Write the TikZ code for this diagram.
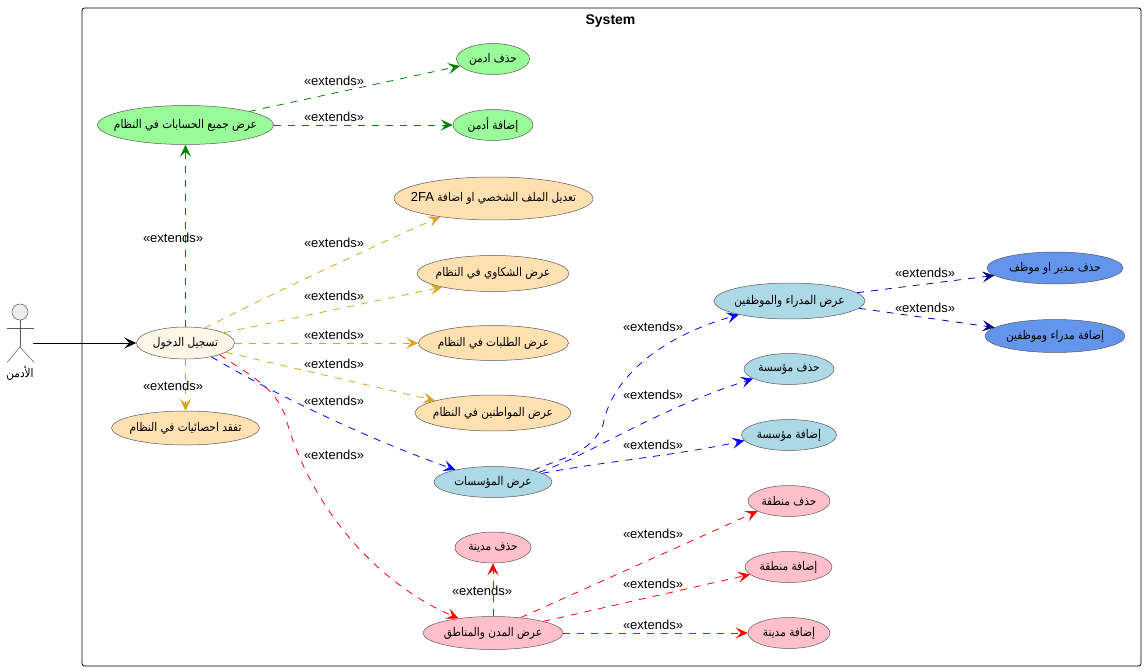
\documentclass[tikz,border=0pt]{standalone}
\usepackage{fontspec}
\setmainfont{Liberation Sans}
\newfontfamily\arabicfont[Script=Arabic,FakeStretch=0.88]{DejaVu Sans}
\TeXXeTstate=1
\usepackage{xcolor}
\usetikzlibrary{arrows.meta, shapes.geometric}
\definecolor{ucgreen}{HTML}{98FB98}
\definecolor{ucorange}{HTML}{FFE0B0}
\definecolor{ucblue}{HTML}{ADD8E6}
\definecolor{ucpink}{HTML}{FFC0CB}
\definecolor{ucdarkblue}{HTML}{6495ED}
\definecolor{uclogin}{HTML}{FDF5E6}
\definecolor{exgreen}{HTML}{008000}
\definecolor{exgold}{HTML}{DAA520}
\definecolor{exnavy}{HTML}{00008B}
\newcommand{\artext}[1]{\makebox[0pt][c]{\arabicfont\fontsize{12}{14}\selectfont\beginR #1\endR}}
\tikzset{
  uc/.style={ellipse, draw=black!65, line width=0.5pt, inner sep=0pt},
  extends/.style={draw=#1, dash pattern=on 7pt off 7pt, line width=0.8pt,
    -{Stealth[length=12pt, width=11pt, inset=5pt, fill=#1]}},
  extlabel/.style={font=\fontsize{13}{15}\selectfont, inner sep=0pt},
  actorline/.style={draw=black!65, line width=0.5pt}
}

\begin{document}
\begin{tikzpicture}[x=1pt, y=-1pt]
\useasboundingbox (0,0) rectangle (1146,671);
\node[draw, line width=0.8pt, rounded corners=2.5pt, minimum width=1059, minimum height=658, inner sep=0pt] (system) at (611.5,337) {};
\node[font=\bfseries\fontsize{14}{16}\selectfont, inner sep=0pt] (systemtitle) at (610.5,21) {System};

% actor
\node[circle, actorline, fill=black!7, minimum size=16, inner sep=0pt] (actorhead) at (20,312) {};
\coordinate (actorhip) at (20,347);
\coordinate (actorhand) at (33,343);
\coordinate (armleft) at (7,328);
\coordinate (armright) at (34,328);
\coordinate (footleft) at (7,362.5);
\coordinate (footright) at (34,362.5);
\draw[actorline] (actorhead) -- (actorhip);
\draw[actorline] (armleft) -- (armright);
\draw[actorline] (footleft) -- (actorhip) -- (footright);
\node[inner sep=0pt] (actorname) at (20,373) {\artext{الأدمن}};

% use cases
\node[uc, fill=uclogin, minimum width=98, minimum height=32] (login) at (185.5,343) {\artext{تسجيل الدخول}};
\node[uc, fill=ucorange, minimum width=148, minimum height=34] (stats) at (185.5,428) {\artext{تفقد احصائيات في النظام}};
\node[uc, fill=ucgreen, minimum width=176, minimum height=39] (accounts) at (185.5,125) {\artext{عرض جميع الحسابات في النظام}};
\node[uc, fill=ucgreen, minimum width=73, minimum height=31] (deladmin) at (493,59) {\artext{حذف ادمن}};
\node[uc, fill=ucgreen, minimum width=80, minimum height=31] (addadmin) at (493,125) {\artext{إضافة أدمن}};
\node[uc, fill=ucorange, minimum width=199, minimum height=43] (profile) at (493.5,198.5) {\artext{تعديل الملف الشخصي او اضافة \beginL{\rmfamily\fontsize{13}{15}\selectfont 2FA}\endL}};
\node[uc, fill=ucorange, minimum width=152, minimum height=36] (complaints) at (493,273.5) {\artext{عرض الشكاوي في النظام}};
\node[uc, fill=ucorange, minimum width=150, minimum height=35] (requests) at (493.5,343) {\artext{عرض الطلبات في النظام}};
\node[uc, fill=ucorange, minimum width=156, minimum height=36] (citizens) at (493,413) {\artext{عرض المواطنين في النظام}};
\node[uc, fill=ucblue, minimum width=118, minimum height=31] (institutions) at (493,482) {\artext{عرض المؤسسات}};
\node[uc, fill=ucpink, minimum width=140, minimum height=33] (cities) at (493,633) {\artext{عرض المدن والمناطق}};
\node[uc, fill=ucpink, minimum width=76, minimum height=31] (delcity) at (493,547.5) {\artext{حذف مدينة}};
\node[uc, fill=ucpink, minimum width=82, minimum height=31] (delregion) at (789,501) {\artext{حذف منطقة}};
\node[uc, fill=ucpink, minimum width=87, minimum height=31] (addregion) at (788.5,567) {\artext{إضافة منطقة}};
\node[uc, fill=ucpink, minimum width=82, minimum height=31] (addcity) at (789,633) {\artext{إضافة مدينة}};
\node[uc, fill=ucblue, minimum width=151, minimum height=36] (managers) at (789.5,301) {\artext{عرض المدراء والموظفين}};
\node[uc, fill=ucblue, minimum width=90, minimum height=31] (delinst) at (789,369) {\artext{حذف مؤسسة}};
\node[uc, fill=ucblue, minimum width=95, minimum height=31] (addinst) at (789,435) {\artext{إضافة مؤسسة}};
\node[uc, fill=ucdarkblue, minimum width=136, minimum height=32] (delmanager) at (1055,268) {\artext{حذف مدير او موظف}};
\node[uc, fill=ucdarkblue, minimum width=140, minimum height=33] (addmanager) at (1055,336) {\artext{إضافة مدراء وموظفين}};

% connectors
\draw[line width=0.8pt, -{Stealth[length=12pt, width=11pt, inset=5pt]}] (actorhand) -- (login);

\draw[extends=exgreen] (login) -- (accounts);
\draw[extends=exgreen] (accounts.12.6) -- (deladmin.192);
\draw[extends=exgreen] (accounts) -- (addadmin);

\draw[extends=exgold] (login) -- (stats);
\draw[extends=exgold] (login.38) .. controls (280,290) and (380,243) .. (profile.199);
\draw[extends=exgold] (login.15) -- (complaints.195);
\draw[extends=exgold] (login) -- (requests);
\draw[extends=exgold] (login.-13) -- (citizens.168);

\draw[extends=blue] (login.-28) .. controls (270,392) and (365,438) .. (institutions.162);
\draw[extends=red] (login.-19) .. controls (255,378) and (274,388) .. (285,415) .. controls (310,510) and (380,585) .. (cities.157);

\draw[extends=blue] (institutions.16) .. controls (560,458) and (590,455) .. (603,425) .. controls (610,385) and (650,340) .. (managers.195);
\draw[extends=blue] (institutions.12) .. controls (590,455) and (650,412) .. (delinst.195);
\draw[extends=blue] (institutions.10) .. controls (600,462) and (680,455) .. (addinst.187);

\draw[extends=exnavy] (managers.7.6) -- (delmanager.187);
\draw[extends=exnavy] (managers.-6) -- (addmanager.172);

\draw[extends=red] (cities) -- (delcity);
\draw[extends=red] (cities.29) -- (delregion.198);
\draw[extends=red] (cities.13) -- (addregion.191);
\draw[extends=red] (cities) -- (addcity);

% extends labels
\foreach \lx/\ly [count=\li] in {334/81, 334/117, 173/238, 334/243, 334/296, 334/335, 334/364, 173/386,
    334/401, 334/455, 653/327, 653/395, 653/445, 925/273, 925/308, 653/534, 653/584, 653/625, 482/591}
  \node[extlabel] (extlabel\li) at (\lx,\ly) {«extends»};
\end{tikzpicture}
\end{document}
